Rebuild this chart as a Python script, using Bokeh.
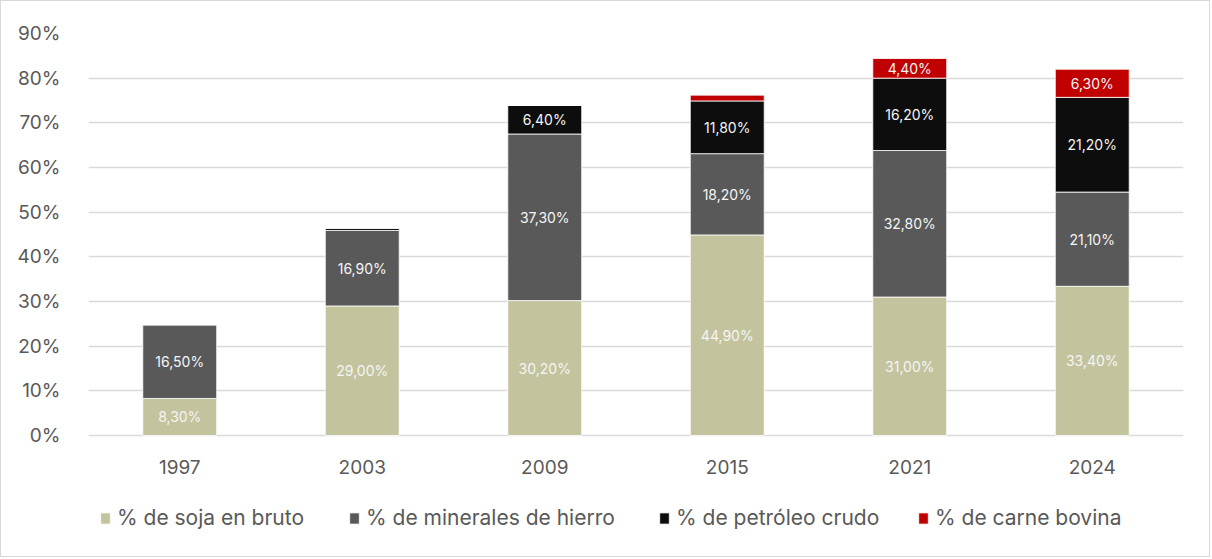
from bokeh.plotting import figure
from bokeh.models import ColumnDataSource, Legend, LegendItem, FactorRange, Range1d, PrintfTickFormatter, FixedTicker
from bokeh.core.properties import value
from bokeh.embed import file_html
from bokeh.resources import INLINE

years = ["1997", "2003", "2009", "2015", "2021", "2024"]
soja = [8.3, 29.0, 30.2, 44.9, 31.0, 33.4]
minerales = [16.5, 16.9, 37.3, 18.2, 32.8, 21.1]
petroleo = [0.0, 0.5, 6.4, 11.8, 16.2, 21.2]
carne = [0.0, 0.0, 0.0, 1.3, 4.4, 6.3]

series = ["soja", "minerales", "petroleo", "carne"]
series_labels = ["% de soja en bruto", "% de minerales de hierro", "% de petróleo crudo", "% de carne bovina"]
colors = ["#C3C49D", "#595959", "#0D0D0D", "#C00000"]
label_min = 2.0  # segments smaller than this carry no label

FONT = "Inter"

# layout (pixels)
W, H = 1210, 557
LEFT, TOP = 87, 32
FRAME_R = 1182
ZERO_PX = 434           # pixel row of 0%
FRAME_B = 545           # frame extended to hold the legend
scale = (ZERO_PX - TOP) / 90.0
y_start = -(FRAME_B - ZERO_PX) / scale

data = dict(years=years, soja=soja, minerales=minerales, petroleo=petroleo, carne=carne)
source = ColumnDataSource(data)

p = figure(x_range=FactorRange(*years), y_range=Range1d(y_start, 90),
           width=W, height=H, output_backend="svg", toolbar_location=None,
           min_border_left=LEFT, min_border_right=W - FRAME_R, min_border_top=TOP,
           min_border_bottom=H - FRAME_B)
p.styles = {"border": "1px solid #d9d9d9", "box-sizing": "border-box"}

renderers = p.vbar_stack(series, x="years", width=0.405, color=colors, source=source,
                         line_color="white", line_width=0.8)

# data labels
lx, ly, lt = [], [], []
cols = [soja, minerales, petroleo, carne]
for i, yr in enumerate(years):
    base = 0.0
    for c in cols:
        v = c[i]
        if v >= label_min:
            lx.append(yr)
            ly.append(base + v / 2)
            lt.append(("%.2f" % v).replace(".", ",") + "%")
        base += v
lsrc = ColumnDataSource(dict(x=lx, y=ly, t=lt))
p.text(x="x", y="y", text="t", source=lsrc, text_align="center", text_baseline="middle",
       text_color="#F5F5F5", text_font_size="14px", text_font=value(FONT))

# category labels under the bars
ysrc = ColumnDataSource(dict(x=years, y=[-31 / scale] * len(years), t=years))
p.text(x="x", y="y", text="t", source=ysrc, text_align="center", text_baseline="middle",
       text_color="#595959", text_font_size="19px", text_font=value(FONT))

# axes
p.xaxis.visible = False
p.yaxis.ticker = FixedTicker(ticks=list(range(0, 91, 10)))
p.yaxis.formatter = PrintfTickFormatter(format="%d%%")
ax = p.yaxis
ax.axis_line_color = None
ax.major_tick_line_color = None
ax.minor_tick_line_color = None
ax.major_label_text_font = FONT
ax.major_label_text_font_size = "19px"
ax.major_label_text_color = "#595959"
ax.major_label_standoff = 22

p.xgrid.grid_line_color = None
p.ygrid.grid_line_color = "#D9D9D9"
p.ygrid.grid_line_width = 1.5
p.outline_line_color = None

# legends, one per item, positioned in the lower part of the frame
square_x = [98, 347, 657, 916]
for r, lab, sx in zip(renderers, series_labels, square_x):
    lg = Legend(items=[LegendItem(label=lab, renderers=[r])], location=(sx - LEFT, 16),
                orientation="horizontal", padding=0, margin=0, border_line_color=None,
                background_fill_alpha=0, glyph_width=12, glyph_height=14, label_standoff=6,
                label_height=24, label_text_font=FONT, label_text_font_size="21px",
                label_text_color="#595959")
    p.add_layout(lg, "center")

open("out.html", "w").write(file_html(p, INLINE))
